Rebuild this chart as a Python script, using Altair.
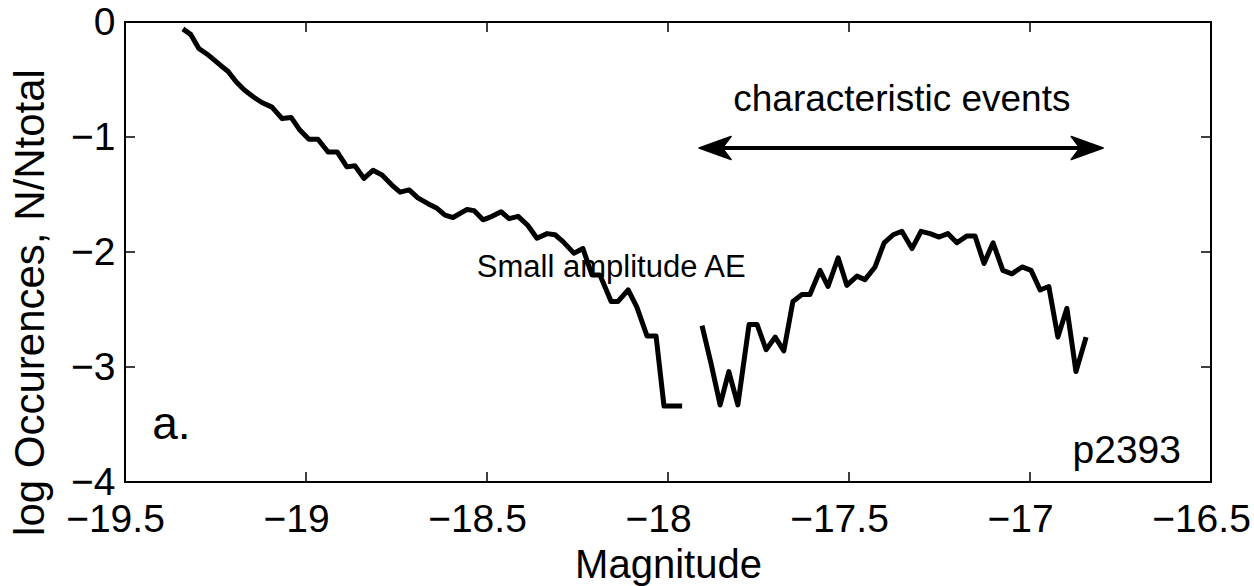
import altair as alt
import pandas as pd

# ---- data ----
left_mag = [-19.340, -19.318, -19.296, -19.273, -19.254, -19.235, -19.215, -19.193, -19.171, -19.146,
            -19.122, -19.094, -19.066, -19.041, -19.017, -18.992, -18.967, -18.939, -18.914, -18.887,
            -18.865, -18.840, -18.815, -18.790, -18.762, -18.740, -18.715, -18.691, -18.663, -18.638,
            -18.616, -18.594, -18.555, -18.536, -18.511, -18.486, -18.461, -18.439, -18.414, -18.387,
            -18.362, -18.334, -18.312, -18.290, -18.260, -18.235, -18.210, -18.188, -18.157, -18.138,
            -18.110, -18.086, -18.058, -18.033, -18.011, -17.986, -17.961]
left_log = [-0.06, -0.11, -0.23, -0.28, -0.33, -0.38, -0.43, -0.52, -0.59, -0.65,
            -0.70, -0.74, -0.84, -0.83, -0.94, -1.02, -1.02, -1.13, -1.13, -1.26,
            -1.25, -1.36, -1.29, -1.33, -1.42, -1.48, -1.46, -1.53, -1.58, -1.62,
            -1.68, -1.70, -1.63, -1.64, -1.72, -1.69, -1.65, -1.71, -1.69, -1.77,
            -1.88, -1.84, -1.85, -1.91, -2.01, -1.97, -2.20, -2.20, -2.43, -2.43,
            -2.33, -2.48, -2.73, -2.73, -3.34, -3.34, -3.34]

right_mag = [-17.906, -17.881, -17.856, -17.832, -17.807, -17.776, -17.754, -17.729, -17.704, -17.680,
             -17.655, -17.630, -17.608, -17.580, -17.558, -17.530, -17.506, -17.478, -17.456, -17.428,
             -17.403, -17.378, -17.354, -17.326, -17.301, -17.276, -17.251, -17.227, -17.202, -17.174,
             -17.152, -17.127, -17.102, -17.075, -17.050, -17.022, -16.997, -16.972, -16.948, -16.923,
             -16.898, -16.873, -16.845]
right_log = [-2.64, -2.97, -3.33, -3.04, -3.33, -2.63, -2.63, -2.85, -2.74, -2.86,
             -2.43, -2.37, -2.37, -2.16, -2.30, -2.05, -2.29, -2.21, -2.24, -2.13,
             -1.92, -1.85, -1.82, -1.97, -1.82, -1.84, -1.87, -1.84, -1.92, -1.86,
             -1.86, -2.10, -1.92, -2.16, -2.19, -2.13, -2.16, -2.33, -2.30, -2.74,
             -2.49, -3.04, -2.74]

x_tick_values = [-19.5, -19, -18.5, -18, -17.5, -17, -16.5]
y_tick_values = [0, -1, -2, -3, -4]
x_inner_ticks = [-19, -18.5, -18, -17.5, -17]
y_inner_ticks = [-1, -2, -3]

# annotations (text, magnitude, log value)
label_small = ["Small amplitude AE"]
label_small_pos = [(-18.528, -2.217)]
label_char = ["characteristic events"]
label_char_pos = [(-17.354, -0.775)]
label_a = ["a."]
label_a_pos = [(-19.425, -3.63)]
label_id = ["p2393"]
label_id_pos = [(-16.583, -3.835)]
arrow_ends = [-17.870, -16.842]
arrow_level = -1.096

# ---- chart ----
W, H = 1086, 460
FONT = "Liberation Sans"

df = pd.DataFrame({
    "m": left_mag + right_mag,
    "v": left_log + right_log,
    "seg": ["a"] * len(left_mag) + ["b"] * len(right_mag),
})

xs = alt.Scale(domain=[-19.5, -16.5], nice=False, zero=False)
ys = alt.Scale(domain=[-4, 0], nice=False, zero=False)

xa = alt.Axis(values=x_tick_values, format="~g", title="Magnitude", grid=False,
              domain=False, ticks=False, tickSize=0, labelPadding=18, labelFontSize=39,
              labelFont=FONT, labelColor="black", labelFlush=False, labelOverlap=False,
              labelOffset=-10, titleFontSize=40, titleFont=FONT, titleFontWeight="normal",
              titleColor="black", titlePadding=6)
ya = alt.Axis(values=y_tick_values, format="~g", title="log Occurences, N/Ntotal", grid=False,
              domain=False, ticks=False, tickSize=0, labelPadding=10, labelFontSize=39,
              labelFont=FONT, labelColor="black", labelFlush=False, labelOverlap=False,
              titleFontSize=42, titleFont=FONT, titleFontWeight="normal", titleColor="black",
              titleAngle=270, titleX=-82, titleY=280, titleAlign="center",
              titleBaseline="alphabetic")

X = lambda f="m": alt.X(f"{f}:Q", scale=xs, axis=xa)
Y = lambda f="v": alt.Y(f"{f}:Q", scale=ys, axis=ya)

line = alt.Chart(df).mark_line(color="black", strokeWidth=5, strokeJoin="round").encode(
    x=X(), y=Y(), detail="seg:N")

tx = pd.DataFrame({"m": x_inner_ticks})
ty = pd.DataFrame({"v": y_inner_ticks})
tick_style = dict(color="black", strokeWidth=1.5)
bottom_ticks = alt.Chart(tx).mark_rule(**tick_style).encode(x=X(), y=alt.value(H), y2=alt.value(H - 10))
top_ticks = alt.Chart(tx).mark_rule(**tick_style).encode(x=X(), y=alt.value(0), y2=alt.value(10))
left_ticks = alt.Chart(ty).mark_rule(**tick_style).encode(y=Y(), x=alt.value(0), x2=alt.value(10))
right_ticks = alt.Chart(ty).mark_rule(**tick_style).encode(y=Y(), x=alt.value(W), x2=alt.value(W - 10))


def text_layer(texts, pos, size, align):
    d = pd.DataFrame({"t": texts, "m": [p[0] for p in pos], "v": [p[1] for p in pos]})
    return alt.Chart(d).mark_text(font=FONT, fontSize=size, align=align, baseline="alphabetic",
                                  color="black").encode(x=X(), y=Y(), text="t:N")


t_small = text_layer(label_small, label_small_pos, 31, "left")
t_char = text_layer(label_char, label_char_pos, 37, "center")
t_a = text_layer(label_a, label_a_pos, 46, "left")
t_id = text_layer(label_id, label_id_pos, 39, "right")

arr = pd.DataFrame({"m": [arrow_ends[0]], "m2": [arrow_ends[1]], "v": [arrow_level]})
arrow_line = alt.Chart(arr).mark_rule(color="black", strokeWidth=4).encode(
    x=X(), x2="m2:Q", y=Y())
head_l = alt.Chart(pd.DataFrame({"m": [arrow_ends[0]], "v": [arrow_level]})).mark_point(
    shape="M -1 0 L 1 -0.72 L 0.45 0 L 1 0.72 Z", size=1024, filled=True, color="black",
    opacity=1, strokeWidth=1.5, stroke="black", strokeJoin="round").encode(x=X(), y=Y())
head_r = alt.Chart(pd.DataFrame({"m": [arrow_ends[1]], "v": [arrow_level]})).mark_point(
    shape="M 1 0 L -1 -0.72 L -0.45 0 L -1 0.72 Z", size=1024, filled=True, color="black",
    opacity=1, strokeWidth=1.5, stroke="black", strokeJoin="round").encode(x=X(), y=Y())

chart = alt.layer(
    line, bottom_ticks, top_ticks, left_ticks, right_ticks,
    t_small, t_char, t_a, t_id, arrow_line, head_l, head_r
).properties(
    width=W, height=H, autosize="none",
    padding={"left": 125, "top": 22, "right": 43, "bottom": 104},
    background="white",
).configure_view(stroke="black", strokeWidth=2)

chart.save("out.html", embed_options={"renderer": "svg", "actions": False})
